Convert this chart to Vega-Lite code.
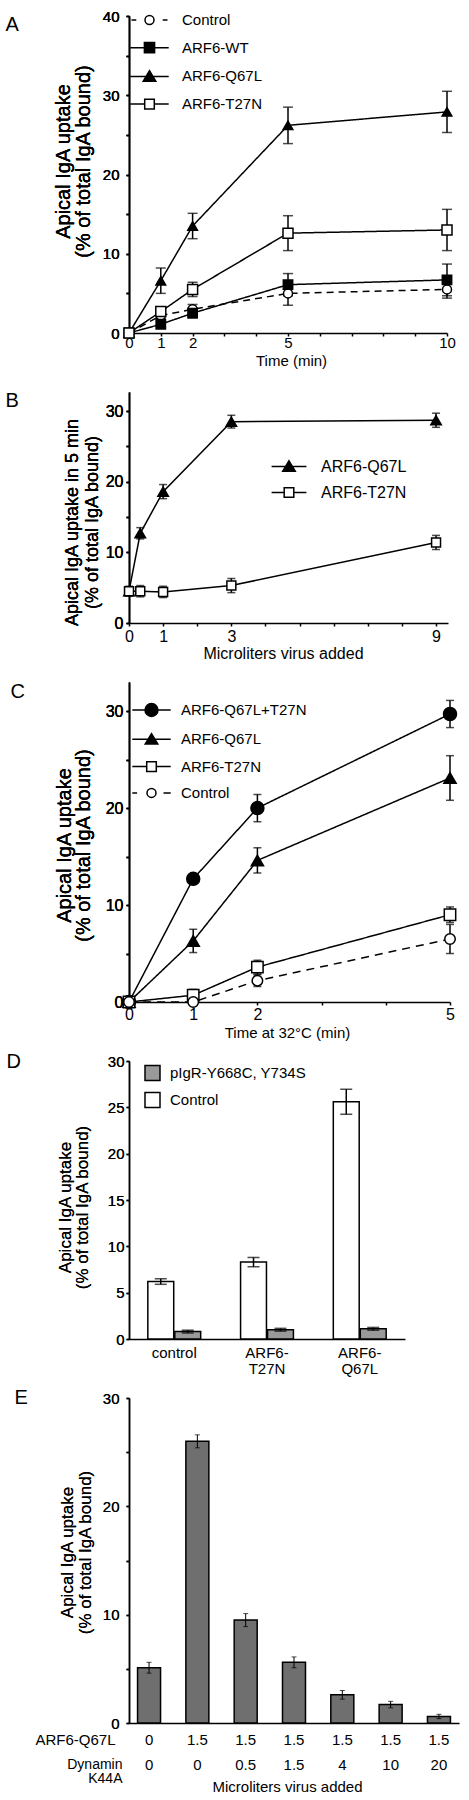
{
  "$schema": "https://vega.github.io/schema/vega-lite/v6.json",
  "background": "white",
  "padding": {"left": 5, "top": 9, "right": 5, "bottom": 5},
  "bounds": "flush",
  "spacing": 59,
  "resolve": {
    "scale": {"strokeDash": "independent", "shape": "independent", "fill": "independent", "size": "independent", "xOffset": "independent"},
    "legend": {"shape": "independent", "fill": "independent"}
  },
  "datasets": {
    "A": [
      {"s": "Control", "t": 0, "v": 0, "e": 0},
      {"s": "Control", "t": 1, "v": 2.2, "e": 0.4},
      {"s": "Control", "t": 2, "v": 3.0, "e": 0.6},
      {"s": "Control", "t": 5, "v": 5.0, "e": 1.5},
      {"s": "Control", "t": 10, "v": 5.5, "e": 1.1},
      {"s": "ARF6-WT", "t": 0, "v": 0, "e": 0},
      {"s": "ARF6-WT", "t": 1, "v": 1.1, "e": 0.3},
      {"s": "ARF6-WT", "t": 2, "v": 2.5, "e": 0.6},
      {"s": "ARF6-WT", "t": 5, "v": 6.1, "e": 1.4},
      {"s": "ARF6-WT", "t": 10, "v": 6.7, "e": 2.0},
      {"s": "ARF6-Q67L", "t": 0, "v": 0, "e": 0},
      {"s": "ARF6-Q67L", "t": 1, "v": 6.6, "e": 1.6},
      {"s": "ARF6-Q67L", "t": 2, "v": 13.5, "e": 1.6},
      {"s": "ARF6-Q67L", "t": 5, "v": 26.2, "e": 2.3},
      {"s": "ARF6-Q67L", "t": 10, "v": 27.9, "e": 2.6},
      {"s": "ARF6-T27N", "t": 0, "v": 0, "e": 0},
      {"s": "ARF6-T27N", "t": 1, "v": 2.7, "e": 0.6},
      {"s": "ARF6-T27N", "t": 2, "v": 5.5, "e": 0.9},
      {"s": "ARF6-T27N", "t": 5, "v": 12.6, "e": 2.2},
      {"s": "ARF6-T27N", "t": 10, "v": 13.0, "e": 2.6}
    ],
    "B": [
      {"s": "ARF6-Q67L", "x": 0, "v": 4.5, "e": 0.5},
      {"s": "ARF6-Q67L", "x": 0.33, "v": 12.7, "e": 0.8},
      {"s": "ARF6-Q67L", "x": 1, "v": 18.6, "e": 1.0},
      {"s": "ARF6-Q67L", "x": 3, "v": 28.5, "e": 0.9},
      {"s": "ARF6-Q67L", "x": 9, "v": 28.7, "e": 1.0},
      {"s": "ARF6-T27N", "x": 0, "v": 4.5, "e": 0.7},
      {"s": "ARF6-T27N", "x": 0.33, "v": 4.5, "e": 0.8},
      {"s": "ARF6-T27N", "x": 1, "v": 4.4, "e": 0.8},
      {"s": "ARF6-T27N", "x": 3, "v": 5.3, "e": 1.0},
      {"s": "ARF6-T27N", "x": 9, "v": 11.4, "e": 1.0}
    ],
    "C": [
      {"s": "ARF6-Q67L+T27N", "t": 0, "v": 0, "e": 0},
      {"s": "ARF6-Q67L+T27N", "t": 1, "v": 12.7, "e": 0.4},
      {"s": "ARF6-Q67L+T27N", "t": 2, "v": 20.0, "e": 1.4},
      {"s": "ARF6-Q67L+T27N", "t": 5, "v": 29.7, "e": 1.4},
      {"s": "ARF6-Q67L", "t": 0, "v": 0, "e": 0},
      {"s": "ARF6-Q67L", "t": 1, "v": 6.3, "e": 1.2},
      {"s": "ARF6-Q67L", "t": 2, "v": 14.6, "e": 1.3},
      {"s": "ARF6-Q67L", "t": 5, "v": 23.1, "e": 2.3},
      {"s": "ARF6-T27N", "t": 0, "v": 0, "e": 0},
      {"s": "ARF6-T27N", "t": 1, "v": 0.7, "e": 0.6},
      {"s": "ARF6-T27N", "t": 2, "v": 3.6, "e": 0.7},
      {"s": "ARF6-T27N", "t": 5, "v": 9.0, "e": 0.8},
      {"s": "Control", "t": 0, "v": 0, "e": 0},
      {"s": "Control", "t": 1, "v": 0.0, "e": 0.3},
      {"s": "Control", "t": 2, "v": 2.2, "e": 0.6},
      {"s": "Control", "t": 5, "v": 6.5, "e": 1.5}
    ],
    "D": [
      {"grp": "control", "cond": "Control", "v": 6.2, "e": 0.3},
      {"grp": "control", "cond": "pIgR-Y668C, Y734S", "v": 0.8, "e": 0.15},
      {"grp": "ARF6-T27N", "cond": "Control", "v": 8.3, "e": 0.5},
      {"grp": "ARF6-T27N", "cond": "pIgR-Y668C, Y734S", "v": 1.0, "e": 0.15},
      {"grp": "ARF6-Q67L", "cond": "Control", "v": 25.6, "e": 1.35},
      {"grp": "ARF6-Q67L", "cond": "pIgR-Y668C, Y734S", "v": 1.1, "e": 0.15}
    ],
    "E": [
      {"cond": "0|0", "v": 5.1, "e": 0.5},
      {"cond": "1.5|0", "v": 26.0, "e": 0.6},
      {"cond": "1.5|0.5", "v": 9.5, "e": 0.6},
      {"cond": "1.5|1.5", "v": 5.6, "e": 0.5},
      {"cond": "1.5|4", "v": 2.6, "e": 0.4},
      {"cond": "1.5|10", "v": 1.7, "e": 0.3},
      {"cond": "1.5|20", "v": 0.6, "e": 0.2}
    ]
  },
  "vconcat": [
    {
      "width": 318,
      "height": 317,
      "data": {"name": "A"},
      "encoding": {
        "x": {"field": "t", "type": "quantitative", "scale": {"domain": [0, 10], "nice": false},
          "axis": {"values": [0, 1, 2, 3, 4, 5, 6, 7, 8, 9, 10], "labelExpr": "indexof([0,1,2,5,10], datum.value) >= 0 ? datum.label : ''", "title": "Time (min)", "titleFontSize": 15, "titleX": 162, "titleY": 32, "titleBaseline": "alphabetic", "labelBaseline": "alphabetic", "labelPadding": 11}},
        "y": {"field": "v", "type": "quantitative", "scale": {"domain": [0, 40], "nice": false},
          "axis": {"orient": "left", "values": [0, 5, 10, 15, 20, 25, 30, 35, 40], "labelExpr": "datum.value % 10 == 0 ? datum.label : ''", "title": ["Apical IgA uptake", "(% of total IgA bound)"], "titleFontSize": 20, "titleLineHeight": 20, "titleX": -66, "titleY": 145, "titleBaseline": "middle", "labelPadding": 7}}
      },
      "layer": [
        {"mark": {"type": "line", "color": "#000", "strokeWidth": 1.5},
          "encoding": {"strokeDash": {"field": "s", "type": "nominal", "scale": {"domain": ["Control", "ARF6-WT", "ARF6-Q67L", "ARF6-T27N"], "range": [[7, 5], [1, 0], [1, 0], [1, 0]]}, "legend": null}}},
        {"transform": [{"filter": "datum.e > 0"}],
          "mark": {"type": "errorbar", "color": "#000", "thickness": 1.5, "ticks": {"size": 10, "thickness": 1.5}},
          "encoding": {"yError": {"field": "e"}}},
        {"mark": {"type": "point", "filled": true, "stroke": "#000", "strokeWidth": 1.5, "opacity": 1},
          "encoding": {
            "shape": {"field": "s", "type": "nominal", "scale": {"domain": ["Control", "ARF6-WT", "ARF6-Q67L", "ARF6-T27N"], "range": ["circle", "square", "triangle-up", "square"]}, "legend": null},
            "fill": {"field": "s", "type": "nominal", "scale": {"domain": ["Control", "ARF6-WT", "ARF6-Q67L", "ARF6-T27N"], "range": ["#fff", "#000", "#000", "#fff"]}, "legend": null},
            "size": {"field": "s", "type": "nominal", "scale": {"domain": ["Control", "ARF6-WT", "ARF6-Q67L", "ARF6-T27N"], "range": [81, 100, 121, 90]}, "legend": null}}},
        {"transform": [{"filter": "false"}],
          "mark": {"type": "point", "filled": true, "stroke": "#000", "strokeWidth": 1.5, "size": 144, "opacity": 1},
          "encoding": {
            "y": {"field": "v", "type": "quantitative", "axis": {"orient": "left", "labels": false, "ticks": false, "domain": false, "title": "A", "titleFontSize": 20, "titleAngle": 0, "titleAlign": "left", "titleBaseline": "alphabetic", "titleX": -124, "titleY": 14}},
            "shape": {"field": "s", "type": "nominal", "scale": {"domain": ["Control", "ARF6-WT", "ARF6-Q67L", "ARF6-T27N"], "range": ["M-3.0,0H-2.2M2.2,0H3.0M0.75,0A0.75,0.75,0,1,1,-0.75,0A0.75,0.75,0,1,1,0.75,0Z", "M-3.2,0H3.2M-0.85,-0.85H0.85V0.85H-0.85Z", "M-3.2,0H3.2M0,-0.95L1.05,0.8H-1.05Z", "M-3.2,0H-0.8M0.8,0H3.2M-0.8,-0.8H0.8V0.8H-0.8Z"]},
              "legend": {"title": null, "orient": "none", "legendX": 13, "legendY": -3.5, "rowPadding": 10.7, "labelOffset": 25, "labelFontSize": 15, "symbolSize": 144, "encode": {"symbols": {"update": {"stroke": {"value": "#000"}, "strokeWidth": {"value": 1.5}}}}}},
            "fill": {"field": "s", "type": "nominal", "scale": {"domain": ["Control", "ARF6-WT", "ARF6-Q67L", "ARF6-T27N"], "range": ["#fff", "#000", "#000", "#fff"]},
              "legend": {"title": null, "orient": "none", "legendX": 13, "legendY": -3.5, "rowPadding": 10.7, "labelOffset": 25, "labelFontSize": 15, "symbolSize": 144, "encode": {"symbols": {"update": {"stroke": {"value": "#000"}, "strokeWidth": {"value": 1.5}}}}}}}}
      ],
      "resolve": {"scale": {"shape": "independent", "fill": "independent", "size": "independent"}, "axis": {"y": "independent"}}
    },
    {
      "width": 319,
      "height": 231,
      "data": {"name": "B"},
      "encoding": {
        "x": {"field": "x", "type": "quantitative", "scale": {"domain": [0, 9.35], "nice": false},
          "axis": {"values": [0, 1, 2, 3, 4, 5, 6, 7, 8, 9], "labelExpr": "indexof([0,1,3,9], datum.value) >= 0 ? datum.label : ''", "title": "Microliters virus added", "titleFontSize": 16, "titleX": 154, "titleY": 35, "titleBaseline": "alphabetic", "labelBaseline": "alphabetic", "labelPadding": 15, "labelFontSize": 16}},
        "y": {"field": "v", "type": "quantitative", "scale": {"domain": [0, 32.7], "nice": false},
          "axis": {"orient": "left", "values": [0, 5, 10, 15, 20, 25, 30], "labelExpr": "datum.value % 10 == 0 ? datum.label : ''", "title": ["Apical IgA uptake in 5 min", "(% of total IgA bound)"], "titleFontSize": 18, "titleLineHeight": 20, "titleX": -57, "titleY": 130, "titleBaseline": "middle", "labelPadding": 3, "labelFontSize": 16}}
      },
      "layer": [
        {"mark": {"type": "line", "color": "#000", "strokeWidth": 1.5},
          "encoding": {"detail": {"field": "s", "type": "nominal"}}},
        {"transform": [{"filter": "datum.e > 0"}],
          "mark": {"type": "errorbar", "color": "#000", "thickness": 1.5, "ticks": {"size": 8, "thickness": 1.5}},
          "encoding": {"yError": {"field": "e"}}},
        {"mark": {"type": "point", "filled": true, "stroke": "#000", "strokeWidth": 1.5, "opacity": 1},
          "encoding": {
            "shape": {"field": "s", "type": "nominal", "scale": {"domain": ["ARF6-Q67L", "ARF6-T27N"], "range": ["triangle-up", "square"]}, "legend": null},
            "fill": {"field": "s", "type": "nominal", "scale": {"domain": ["ARF6-Q67L", "ARF6-T27N"], "range": ["#000", "#fff"]}, "legend": null},
            "size": {"field": "s", "type": "nominal", "scale": {"domain": ["ARF6-Q67L", "ARF6-T27N"], "range": [110, 80]}, "legend": null}}},
        {"transform": [{"filter": "false"}],
          "mark": {"type": "point", "filled": true, "stroke": "#000", "strokeWidth": 1.5, "size": 144, "opacity": 1},
          "encoding": {
            "y": {"field": "v", "type": "quantitative", "axis": {"orient": "left", "labels": false, "ticks": false, "domain": false, "title": "B", "titleFontSize": 20, "titleAngle": 0, "titleAlign": "left", "titleBaseline": "alphabetic", "titleX": -124, "titleY": 14}},
            "shape": {"field": "s", "type": "nominal", "scale": {"domain": ["ARF6-Q67L", "ARF6-T27N"], "range": ["M-2.9,0H2.9M0,-0.95L1.05,0.8H-1.05Z", "M-2.9,0H-0.8M0.8,0H2.9M-0.8,-0.8H0.8V0.8H-0.8Z"]},
              "legend": {"title": null, "orient": "none", "legendX": 152, "legendY": 66.5, "rowPadding": 10, "labelOffset": 24, "labelFontSize": 16, "symbolSize": 144, "encode": {"symbols": {"update": {"stroke": {"value": "#000"}, "strokeWidth": {"value": 1.5}}}}}},
            "fill": {"field": "s", "type": "nominal", "scale": {"domain": ["ARF6-Q67L", "ARF6-T27N"], "range": ["#000", "#fff"]},
              "legend": {"title": null, "orient": "none", "legendX": 152, "legendY": 66.5, "rowPadding": 10, "labelOffset": 24, "labelFontSize": 16, "symbolSize": 144, "encode": {"symbols": {"update": {"stroke": {"value": "#000"}, "strokeWidth": {"value": 1.5}}}}}}}}
      ],
      "resolve": {"scale": {"shape": "independent", "fill": "independent", "size": "independent"}, "axis": {"y": "independent"}}
    },
    {
      "width": 321,
      "height": 320,
      "data": {"name": "C"},
      "encoding": {
        "x": {"field": "t", "type": "quantitative", "scale": {"domain": [0, 5], "nice": false},
          "axis": {"values": [0, 1, 2, 3, 4, 5], "labelExpr": "indexof([0,1,2,5], datum.value) >= 0 ? datum.label : ''", "title": "Time at 32°C (min)", "titleFontSize": 15, "titleX": 158, "titleY": 35, "titleBaseline": "alphabetic", "labelBaseline": "alphabetic", "labelPadding": 14, "labelFontSize": 16}},
        "y": {"field": "v", "type": "quantitative", "scale": {"domain": [0, 33], "nice": false},
          "axis": {"orient": "left", "values": [0, 5, 10, 15, 20, 25, 30], "labelExpr": "datum.value % 10 == 0 ? datum.label : ''", "title": ["Apical IgA uptake", "(% of total IgA bound)"], "titleFontSize": 20, "titleLineHeight": 19, "titleX": -65, "titleY": 163, "titleBaseline": "middle", "labelPadding": 3, "labelFontSize": 16}}
      },
      "layer": [
        {"mark": {"type": "line", "color": "#000", "strokeWidth": 1.5},
          "encoding": {"strokeDash": {"field": "s", "type": "nominal", "scale": {"domain": ["ARF6-Q67L+T27N", "ARF6-Q67L", "ARF6-T27N", "Control"], "range": [[1, 0], [1, 0], [1, 0], [8, 6]]}, "legend": null}}},
        {"transform": [{"filter": "datum.e > 0"}],
          "mark": {"type": "errorbar", "color": "#000", "thickness": 1.5, "ticks": {"size": 8, "thickness": 1.5}},
          "encoding": {"yError": {"field": "e"}}},
        {"mark": {"type": "point", "filled": true, "stroke": "#000", "strokeWidth": 1.5, "opacity": 1},
          "encoding": {
            "shape": {"field": "s", "type": "nominal", "scale": {"domain": ["ARF6-Q67L+T27N", "ARF6-Q67L", "ARF6-T27N", "Control"], "range": ["circle", "triangle-up", "square", "circle"]}, "legend": null},
            "fill": {"field": "s", "type": "nominal", "scale": {"domain": ["ARF6-Q67L+T27N", "ARF6-Q67L", "ARF6-T27N", "Control"], "range": ["#000", "#000", "#fff", "#fff"]}, "legend": null},
            "size": {"field": "s", "type": "nominal", "scale": {"domain": ["ARF6-Q67L+T27N", "ARF6-Q67L", "ARF6-T27N", "Control"], "range": [169, 110, 72, 81]}, "legend": null}}},
        {"transform": [{"filter": "false"}],
          "mark": {"type": "point", "filled": true, "stroke": "#000", "strokeWidth": 1.5, "size": 144, "opacity": 1},
          "encoding": {
            "y": {"field": "v", "type": "quantitative", "axis": {"orient": "left", "labels": false, "ticks": false, "domain": false, "title": "C", "titleFontSize": 20, "titleAngle": 0, "titleAlign": "left", "titleBaseline": "alphabetic", "titleX": -119, "titleY": 15}},
            "shape": {"field": "s", "type": "nominal", "scale": {"domain": ["ARF6-Q67L+T27N", "ARF6-Q67L", "ARF6-T27N", "Control"], "range": ["M-3.2,0H3.2M1.08,0A1.08,1.08,0,1,1,-1.08,0A1.08,1.08,0,1,1,1.08,0Z", "M-3.2,0H3.2M0,-0.95L1.05,0.8H-1.05Z", "M-3.2,0H-0.8M0.8,0H3.2M-0.8,-0.8H0.8V0.8H-0.8Z", "M-3.2,0H-2.4M2.0,0H3.2M0.75,0A0.75,0.75,0,1,1,-0.75,0A0.75,0.75,0,1,1,0.75,0Z"]},
              "legend": {"title": null, "orient": "none", "legendX": 15, "legendY": 20.5, "rowPadding": 10.3, "labelOffset": 22, "labelFontSize": 15, "symbolSize": 144, "encode": {"symbols": {"update": {"stroke": {"value": "#000"}, "strokeWidth": {"value": 1.5}}}}}},
            "fill": {"field": "s", "type": "nominal", "scale": {"domain": ["ARF6-Q67L+T27N", "ARF6-Q67L", "ARF6-T27N", "Control"], "range": ["#000", "#000", "#fff", "#fff"]},
              "legend": {"title": null, "orient": "none", "legendX": 15, "legendY": 20.5, "rowPadding": 10.3, "labelOffset": 22, "labelFontSize": 15, "symbolSize": 144, "encode": {"symbols": {"update": {"stroke": {"value": "#000"}, "strokeWidth": {"value": 1.5}}}}}}}}
      ],
      "resolve": {"scale": {"shape": "independent", "fill": "independent", "size": "independent"}, "axis": {"y": "independent"}}
    },
    {
      "width": 276,
      "height": 278,
      "data": {"name": "D"},
      "encoding": {
        "x": {"field": "grp", "type": "nominal", "scale": {"domain": ["control", "ARF6-T27N", "ARF6-Q67L"], "paddingInner": 0.43, "paddingOuter": 0.203},
          "axis": {"title": null, "ticks": false, "labelAngle": 0, "labelExpr": "datum.value == 'control' ? datum.value : [slice(datum.value, 0, 5), slice(datum.value, 5)]", "labelBaseline": "alphabetic", "labelPadding": 18, "labelLineHeight": 16, "labelFontSize": 15}},
        "xOffset": {"field": "cond", "type": "nominal", "scale": {"domain": ["Control", "pIgR-Y668C, Y734S"], "paddingInner": 0.04}},
        "y": {"field": "v", "type": "quantitative", "scale": {"domain": [0, 30], "nice": false},
          "axis": {"orient": "left", "values": [0, 5, 10, 15, 20, 25, 30], "title": ["Apical IgA uptake", "(% of total IgA bound)"], "titleFontSize": 17, "titleLineHeight": 17, "titleX": -64, "titleY": 146, "titleBaseline": "middle", "labelPadding": 2, "labelFontSize": 15}}
      },
      "layer": [
        {"mark": {"type": "bar", "stroke": "#000", "strokeWidth": 1.5},
          "encoding": {"fill": {"field": "cond", "type": "nominal", "scale": {"domain": ["pIgR-Y668C, Y734S", "Control"], "range": ["#9a9a9a", "#ffffff"]},
            "legend": {"title": null, "orient": "none", "legendX": 15, "legendY": 3.5, "rowPadding": 6, "labelOffset": 9, "labelFontSize": 15, "symbolType": "square", "symbolSize": 225, "encode": {"symbols": {"update": {"stroke": {"value": "#000"}, "strokeWidth": {"value": 1.5}}}}}}}},
        {"mark": {"type": "errorbar", "color": "#000", "thickness": 1.5, "ticks": {"size": 12, "thickness": 1.5}},
          "encoding": {"yError": {"field": "e"}}},
        {"transform": [{"filter": "false"}],
          "mark": {"type": "bar"},
          "encoding": {
            "y": {"field": "v", "type": "quantitative", "axis": {"orient": "left", "labels": false, "ticks": false, "domain": false, "title": "D", "titleFontSize": 20, "titleAngle": 0, "titleAlign": "left", "titleBaseline": "alphabetic", "titleX": -123, "titleY": 6}}}}
      ],
      "resolve": {"axis": {"y": "independent"}}
    },
    {
      "width": 330,
      "height": 325,
      "data": {"name": "E"},
      "encoding": {
        "x": {"field": "cond", "type": "nominal", "scale": {"domain": ["0|0", "1.5|0", "1.5|0.5", "1.5|1.5", "1.5|4", "1.5|10", "1.5|20"], "paddingInner": 0.524, "paddingOuter": 0.177},
          "axis": {"orient": "bottom", "ticks": false, "labelAngle": 0, "labelExpr": "split(datum.value, '|')", "labelBaseline": "alphabetic", "labelPadding": 21, "labelLineHeight": 25, "labelFontSize": 15, "title": "Microliters virus added", "titleFontSize": 15, "titleX": 158, "titleY": 68, "titleBaseline": "alphabetic"}},
        "y": {"field": "v", "type": "quantitative", "scale": {"domain": [0, 30], "nice": false},
          "axis": {"orient": "left", "values": [0, 5, 10, 15, 20, 25, 30], "labelExpr": "datum.value % 10 == 0 ? datum.label : ''", "title": ["Apical IgA uptake", "(% of total IgA bound)"], "titleFontSize": 17, "titleLineHeight": 18, "titleX": -62, "titleY": 154, "titleBaseline": "middle", "labelPadding": 7, "labelFontSize": 15}}
      },
      "layer": [
        {"mark": {"type": "bar", "fill": "#6f6f6f", "stroke": "#000", "strokeWidth": 1.5}},
        {"mark": {"type": "errorbar", "color": "#000", "thickness": 1, "ticks": {"size": 5, "thickness": 1}},
          "encoding": {
            "yError": {"field": "e"},
            "x": {"field": "cond", "type": "nominal", "axis": {"orient": "bottom", "labels": false, "ticks": false, "domain": false, "title": "ARF6-Q67L", "titleFontSize": 15, "titleX": -14, "titleY": 21, "titleAlign": "right", "titleBaseline": "alphabetic"}}}},
        {"transform": [{"filter": "false"}],
          "mark": {"type": "bar"},
          "encoding": {
            "x": {"field": "cond", "type": "nominal", "axis": {"orient": "bottom", "labels": false, "ticks": false, "domain": false, "title": ["Dynamin", "K44A"], "titleFontSize": 14, "titleLineHeight": 14, "titleX": -7, "titleY": 45, "titleAlign": "right", "titleBaseline": "alphabetic"}},
            "y": {"field": "v", "type": "quantitative", "axis": {"orient": "left", "labels": false, "ticks": false, "domain": false, "title": "E", "titleFontSize": 20, "titleAngle": 0, "titleAlign": "left", "titleBaseline": "alphabetic", "titleX": -115, "titleY": 5}}}}
      ],
      "resolve": {"axis": {"x": "independent", "y": "independent"}}
    }
  ],
  "config": {
    "font": "Liberation Sans",
    "view": {"stroke": null},
    "axis": {"grid": false, "domainColor": "#000", "domainWidth": 1.5, "tickColor": "#000", "tickWidth": 1.5, "tickSize": 3, "labelColor": "#000", "labelFontSize": 15, "titleColor": "#000", "titleFontWeight": "normal", "labelFont": "Liberation Sans", "titleFont": "Liberation Sans", "labelFlush": false, "labelOverlap": false},
    "legend": {"labelFont": "Liberation Sans", "labelColor": "#000", "padding": 0}
  }
}
